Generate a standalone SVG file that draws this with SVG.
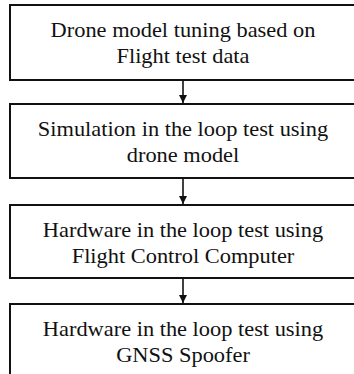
<svg xmlns="http://www.w3.org/2000/svg" width="354" height="374" viewBox="0 0 354 374">
  <style>
    .box { fill: #ffffff; stroke: #111111; stroke-width: 2; }
    .label { font-family: "Liberation Serif", "Times New Roman", serif; font-size: 20px; fill: #111111; text-anchor: middle; }
    .link { stroke: #111111; stroke-width: 1.6; fill: none; marker-end: url(#head); }
  </style>
  <defs>
    <marker id="head" viewBox="0 0 10 10" refX="10" refY="5" markerWidth="8" markerHeight="8" markerUnits="userSpaceOnUse" orient="auto">
      <path d="M0,0 L10,5 L0,10 Z" fill="#111111"/>
    </marker>
  </defs>
  <rect width="354" height="374" fill="#ffffff"/>

  <g id="step-tuning">
    <rect class="box" x="10" y="5" width="346" height="75"/>
    <g transform="translate(183 0) scale(1.12 1)">
      <text class="label" x="0" y="37.5">Drone model tuning based on</text>
      <text class="label" x="0" y="63.5">Flight test data</text>
    </g>
  </g>

  <g id="step-sitl">
    <rect class="box" x="10" y="104" width="346" height="74"/>
    <g transform="translate(183 0) scale(1.12 1)">
      <text class="label" x="0" y="136.5">Simulation in the loop test using</text>
      <text class="label" x="0" y="162.5">drone model</text>
    </g>
  </g>

  <g id="step-hitl-fcc">
    <rect class="box" x="10" y="205" width="346" height="73"/>
    <g transform="translate(183 0) scale(1.12 1)">
      <text class="label" x="0" y="237.5">Hardware in the loop test using</text>
      <text class="label" x="0" y="263.5">Flight Control Computer</text>
    </g>
  </g>

  <g id="step-hitl-gnss">
    <rect class="box" x="10" y="304" width="346" height="82"/>
    <g transform="translate(183 0) scale(1.12 1)">
      <text class="label" x="0" y="336.5">Hardware in the loop test using</text>
      <text class="label" x="0" y="362.5">GNSS Spoofer</text>
    </g>
  </g>

  <g id="connectors">
    <line class="link" x1="183" y1="81" x2="183" y2="103"/>
    <line class="link" x1="183" y1="179" x2="183" y2="204"/>
    <line class="link" x1="183" y1="279" x2="183" y2="303"/>
  </g>
</svg>
